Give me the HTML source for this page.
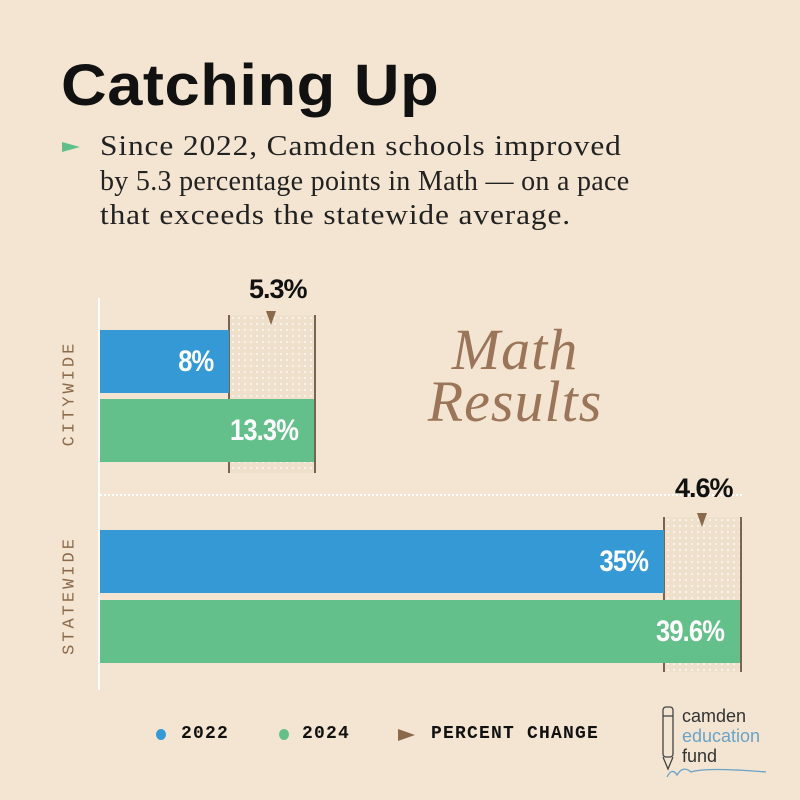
<!DOCTYPE html>
<html><head><meta charset="utf-8"><style>
body{margin:0;width:800px;height:800px;background:#f3e5d1;position:relative;overflow:hidden;font-family:"Liberation Sans",sans-serif}
.a{position:absolute}
.title{left:61px;top:52px;font-size:58px;font-weight:bold;color:#111;letter-spacing:0.5px;transform:scaleX(1.09);transform-origin:left top;white-space:nowrap}
.body{left:100px;top:130px;font-family:"Liberation Serif",serif;font-size:28px;line-height:34.5px;color:#222;white-space:nowrap}
.body span{display:inline-block;transform-origin:left center}
.bar{position:absolute;color:#fff;font-weight:bold;font-size:30px;text-align:right;box-sizing:border-box;padding-right:16px;letter-spacing:-1px}
.bar span,.lbl span{display:inline-block;transform:scaleX(0.85);transform-origin:right center}
.hatch{position:absolute;border-left:2px solid #7a6450;border-right:2px solid #7a6450;background-color:#efe0cc;background-image:radial-gradient(#faf3ea 1px,transparent 1.3px);background-size:6px 6px}
.lbl{position:absolute;font-weight:bold;font-size:27px;color:#111;letter-spacing:-1px}
.tri{position:absolute;width:0;height:0;border-left:5px solid transparent;border-right:5px solid transparent;border-top:14px solid #8b6a4c}
.rot{position:absolute;font-family:"Liberation Mono",monospace;font-size:17px;letter-spacing:3px;color:#8b6a4c;transform:rotate(-90deg);transform-origin:center;width:160px;text-align:center}
.leg{position:absolute;top:724px;font-family:"Liberation Mono",monospace;font-weight:bold;font-size:18px;color:#111;letter-spacing:1.2px}
.dot{position:absolute;top:729px;width:10px;height:11px;border-radius:50%}
</style></head><body>
<div class="a title">Catching Up</div>
<div class="a" style="left:62px;top:142px;width:0;height:0;border-top:5px solid transparent;border-bottom:5px solid transparent;border-left:18px solid #5fbf8a"></div>
<div class="a body"><span style="transform:scaleX(1.12);letter-spacing:0.8px">Since 2022, Camden schools improved</span><br><span style="letter-spacing:0.3px">by 5.3 percentage points in Math — on a pace</span><br><span style="transform:scaleX(1.12);letter-spacing:0.8px">that exceeds the statewide average.</span></div>

<div class="a" style="left:98px;top:298px;width:2px;height:392px;background:#fff"></div>
<div class="a" style="left:100px;top:494px;width:642px;border-top:2px dotted #fff"></div>

<div class="hatch" style="left:228px;top:315px;width:84px;height:158px"></div>
<div class="bar" style="left:100px;top:330px;width:129px;height:63px;line-height:63px;background:#3599d6"><span>8%</span></div>
<div class="bar" style="left:100px;top:399px;width:214px;height:63px;line-height:63px;background:#64c08a"><span>13.3%</span></div>
<div class="lbl" style="left:249px;top:274px">5.3%</div>
<div class="tri" style="left:266px;top:311px"></div>

<div class="hatch" style="left:663px;top:517px;width:75px;height:155px"></div>
<div class="bar" style="left:100px;top:530px;width:564px;height:63px;line-height:63px;background:#3599d6"><span>35%</span></div>
<div class="bar" style="left:100px;top:600px;width:640px;height:63px;line-height:63px;background:#64c08a"><span>39.6%</span></div>
<div class="lbl" style="left:675px;top:473px">4.6%</div>
<div class="tri" style="left:697px;top:513px"></div>

<div class="a" style="left:395px;top:324px;width:240px;text-align:center;font-family:'Liberation Serif',serif;font-style:italic;font-size:58px;line-height:52px;color:#9a7559;letter-spacing:1px">Math<br>Results</div>

<div class="rot" style="left:-10px;top:384px">CITYWIDE</div>
<div class="rot" style="left:-10px;top:586px">STATEWIDE</div>

<div class="dot" style="left:156px;background:#3599d6"></div>
<div class="leg" style="left:181px">2022</div>
<div class="dot" style="left:279px;background:#64c08a"></div>
<div class="leg" style="left:302px">2024</div>
<div class="a" style="left:398px;top:729px;width:0;height:0;border-top:6px solid transparent;border-bottom:6px solid transparent;border-left:17px solid #8b6a4c"></div>
<div class="leg" style="left:431px">PERCENT CHANGE</div>

<svg class="a" style="left:655px;top:705px" width="130" height="75">
<rect x="8" y="2" width="10" height="50" rx="3" fill="none" stroke="#444" stroke-width="1.3"/>
<line x1="8" y1="11" x2="18" y2="11" stroke="#444" stroke-width="1.3"/>
<path d="M8 52 L13 64 L18 52" fill="none" stroke="#444" stroke-width="1.3"/>
<path d="M12 72 q5 -10 10 -2 q6 -10 14 -3 q15 -5 75 0" fill="none" stroke="#6aa3c8" stroke-width="1.3"/>
</svg>
<div class="a" style="left:682px;top:706px;font-size:18px;line-height:20px;color:#333">camden<br><span style="color:#6aa3c8">education</span><br>fund</div>
</body></html>
